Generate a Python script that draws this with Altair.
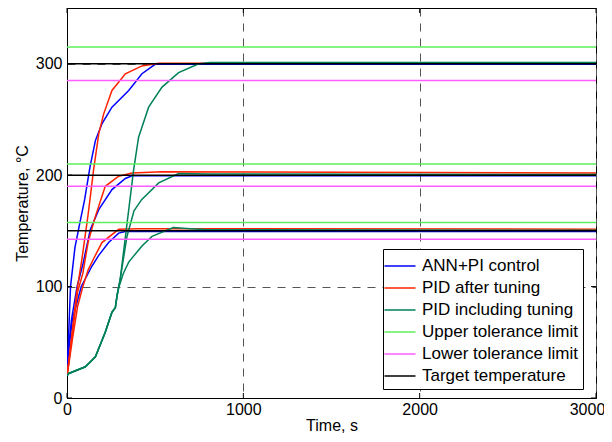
import altair as alt
import pandas as pd

# ---------------- data ----------------
series_names = ["ANN+PI control", "PID after tuning", "PID including tuning",
                "Upper tolerance limit", "Lower tolerance limit", "Target temperature"]
series_colors = ["#0000FF", "#FF2200", "#00805A", "#5CF05C", "#FF5CFF", "#000000"]

# ANN+PI control
ann300_t = [0, 5, 20, 45, 70, 100, 130, 161, 198, 255, 350, 425, 500, 600, 3000]
ann300_T = [20, 40, 100, 135, 155, 178, 207, 231, 246, 261, 276, 291, 299.5, 299.5, 299.5]
ann200_t = [0, 5, 25, 57, 90, 132, 180, 255, 331, 369, 450, 3000]
ann200_T = [20, 38, 70, 100, 120, 151, 169, 187, 197, 199.5, 199.5, 199.5]
ann150_t = [0, 5, 30, 81, 104, 140, 180, 236, 293, 331, 400, 3000]
ann150_T = [20, 36, 70, 100, 107, 118, 128, 139.5, 148, 149.5, 149.5, 149.5]

# PID after tuning
pid300_t = [0, 10, 30, 55, 85, 120, 151, 180, 208, 255, 331, 425, 520, 3000]
pid300_T = [20, 32, 60, 95, 125, 165, 205, 237, 255, 276, 291, 298, 300.5, 300.5]
pid200_t = [0, 10, 30, 60, 90, 120, 161, 217, 293, 369, 539, 3000]
pid200_T = [20, 32, 58, 95, 112, 140, 163, 190, 199, 202, 203, 202]
pid150_t = [0, 10, 30, 60, 90, 120, 151, 198, 293, 400, 3000]
pid150_T = [20, 30, 52, 82, 100, 115, 125, 139.5, 151.4, 152, 151.5]

# PID including tuning (common tuning phase, then three branches)
tune_t = [0, 10, 104, 161, 217, 255, 274]
tune_T = [20, 22, 28, 37, 59, 77, 81]
inc300_t = [284, 302, 378, 406, 463, 539, 633, 747, 811, 3000]
inc300_T = [92, 107, 205, 234, 261, 279, 292, 300, 301, 301]
inc200_t = [284, 302, 340, 380, 423, 520, 633, 800, 3000]
inc200_T = [92, 107, 145, 168, 178, 193, 201.5, 201, 200.5]
inc150_t = [284, 293, 320, 350, 425, 482, 603, 700, 800, 3000]
inc150_T = [92, 99, 112, 122, 136.5, 145, 153, 152, 151, 150.5]

# reference levels
targets = [300, 200, 150]
upper_limits = [315, 210, 157.5]
lower_limits = [285, 190, 142.5]
level_t = [0, 3000]

x_ticks = [0, 1000, 2000, 3000]
y_ticks = [0, 100, 200, 300]

# ---------------- build table ----------------
rows = []


def add(series, run, ts, Ts):
    for a, b in zip(ts, Ts):
        rows.append({"series": series, "run": run, "t": a, "T": b})


add(series_names[0], "a300", ann300_t, ann300_T)
add(series_names[0], "a200", ann200_t, ann200_T)
add(series_names[0], "a150", ann150_t, ann150_T)
add(series_names[1], "p300", pid300_t, pid300_T)
add(series_names[1], "p200", pid200_t, pid200_T)
add(series_names[1], "p150", pid150_t, pid150_T)
add(series_names[2], "i300", tune_t + inc300_t, tune_T + inc300_T)
add(series_names[2], "i200", tune_t + inc200_t, tune_T + inc200_T)
add(series_names[2], "i150", tune_t + inc150_t, tune_T + inc150_T)
for k, v in enumerate(upper_limits):
    add(series_names[3], f"u{k}", level_t, [v, v])
for k, v in enumerate(lower_limits):
    add(series_names[4], f"l{k}", level_t, [v, v])
for k, v in enumerate(targets):
    add(series_names[5], f"g{k}", level_t, [v, v])

df = pd.DataFrame(rows)

W, H = 529, 390
FONT = "Liberation Sans"

xscale = alt.Scale(domain=[0, 3000], nice=False)
yscale = alt.Scale(domain=[0, 350], nice=False)

axis_style = dict(labelFont=FONT, labelFontSize=16, labelColor="black",
                  titleFont=FONT, titleFontSize=16, titleFontWeight="normal",
                  titleColor="black", grid=True, gridDash=[8, 7],
                  gridColor="#555555", tickSize=0, domainColor="black", format="d")

lines = alt.Chart(df).mark_line(strokeWidth=1.5, clip=True).encode(
    x=alt.X("t:Q", scale=xscale, title="Time, s",
            axis=alt.Axis(values=x_ticks, labelPadding=3, labelFlush=False,
                          labelOffset={"expr": "datum.value == 3000 ? -9 : 0"},
                          titlePadding=0, **axis_style)),
    y=alt.Y("T:Q", scale=yscale, title="Temperature, °C",
            axis=alt.Axis(values=y_ticks, labelPadding=5, titlePadding=5, **axis_style)),
    color=alt.Color("series:N",
                    scale=alt.Scale(domain=series_names, range=series_colors),
                    legend=alt.Legend(title=None, orient="none", legendX=316, legendY=241,
                                      symbolType="M-1.41,0H1.41", symbolSize=484,
                                      symbolStrokeWidth=1.5, symbolFillColor="transparent",
                                      labelFont=FONT,
                                      labelFontSize=17, labelColor="black",
                                      fillColor="white", strokeColor="black",
                                      padding=5, rowPadding=2, labelOffset=10,
                                      labelLimit=400)),
    detail="run:N",
)

xt = pd.DataFrame({"t": x_ticks})
yt = pd.DataFrame({"T": y_ticks})
tick_bottom = alt.Chart(xt).mark_rule(color="black").encode(
    x=alt.X("t:Q", scale=xscale), y=alt.value(H), y2=alt.value(H - 5))
tick_top = alt.Chart(xt).mark_rule(color="black").encode(
    x=alt.X("t:Q", scale=xscale), y=alt.value(0), y2=alt.value(5))
tick_left = alt.Chart(yt).mark_rule(color="black").encode(
    y=alt.Y("T:Q", scale=yscale), x=alt.value(0), x2=alt.value(5))
tick_right = alt.Chart(yt).mark_rule(color="black").encode(
    y=alt.Y("T:Q", scale=yscale), x=alt.value(W - 5), x2=alt.value(W))

chart = alt.layer(lines, tick_bottom, tick_top, tick_left, tick_right).properties(
    width=W, height=H,
    background="white",
    autosize=alt.AutoSizeParams(type="none"),
    padding={"left": 59, "top": 0, "right": 8, "bottom": 36},
).configure_view(stroke="black", strokeWidth=1)

chart.save("out.html", embed_options={"renderer": "svg", "actions": False})
